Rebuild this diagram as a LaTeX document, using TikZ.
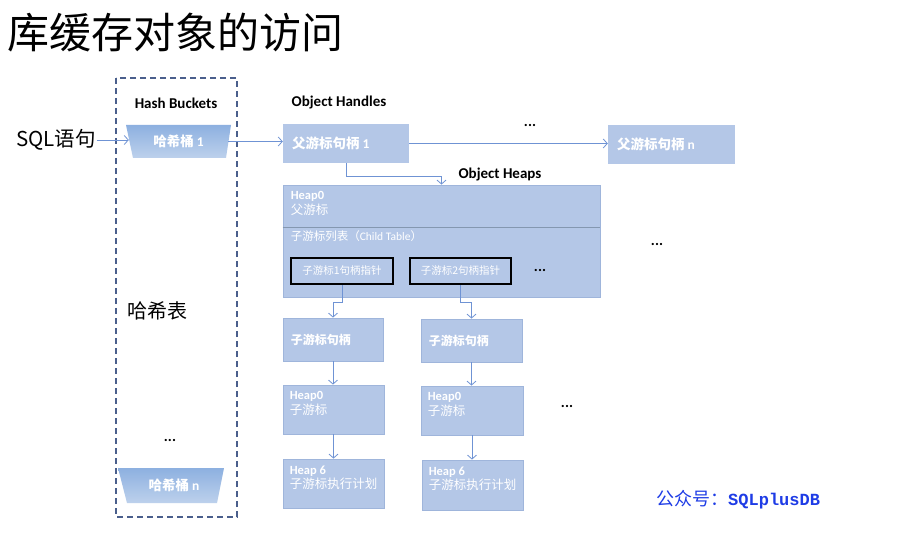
\documentclass[tikz,border=0pt]{standalone}
\usepackage{fontspec}
\setmainfont{Carlito}
\newfontfamily\cjk{Noto Sans CJK SC}
\newfontfamily\monofnt{Liberation Mono}
\usetikzlibrary{arrows.meta,shadows}
\definecolor{boxfill}{HTML}{B4C7E7}
\definecolor{boxline}{HTML}{9FB5DB}
\definecolor{sepline}{HTML}{8497B0}
\definecolor{connc}{HTML}{6F93D4}
\definecolor{dashc}{HTML}{4A5F8C}
\definecolor{wmc}{HTML}{1E3CE6}
\definecolor{bkttop}{HTML}{8DB0E0}
\definecolor{bktbot}{HTML}{BDD1EC}
\begin{document}
\begin{tikzpicture}[x=1pt,y=-1pt,
  flatbox/.style={fill=boxfill, draw=none, inner sep=0pt},
  box/.style={fill=boxfill, draw=boxline, line width=0.8pt, inner sep=0pt,
    drop shadow={shadow xshift=1pt,shadow yshift=-1.2pt,opacity=0.3,fill=black!60}},
  ptrbox/.style={draw=black, line width=2.2pt, inner sep=0pt, text=white,
    font=\fontsize{10.5}{12}\selectfont},
  btxt/.style={text=white, inner sep=0pt, anchor=west, font=\fontsize{12}{14}\selectfont\bfseries},
  mtxt/.style={text=white, inner sep=0pt, anchor=north west, align=left, font=\fontsize{12.5}{14.5}\selectfont},
  head/.style={inner sep=0pt, font=\fontsize{15}{17}\selectfont\bfseries},
  dots/.style={inner sep=0pt, font=\fontsize{15}{16}\selectfont\bfseries},
  conn/.style={draw=connc, line width=0.8pt, -{Straight Barb[length=4pt,width=9pt]}},
  bucket/.style={top color=bkttop, bottom color=bktbot, draw=none},
]
\useasboundingbox (0,0) rectangle (900,548);
\fill[white] (0,0) rectangle (900,548);

% title
\node[inner sep=0pt, anchor=west, font=\cjk\fontsize{42}{46}\selectfont] (title) at (7,33) {库缓存对象的访问};

% hash bucket area
\draw[dashc, line width=1.1pt, dash pattern=on 6pt off 4pt] (116,78) rectangle (237,517);
\node[head] (hb) at (176,103) {Hash Buckets};
\path[bucket] (126,125) -- (231,125) -- (226,158) -- (133,158) -- cycle;
\node[inner sep=0pt, minimum width=99pt, minimum height=33pt, text=white,
  font=\fontsize{13.5}{15}\selectfont\bfseries] (b1) at (178.5,141.5) {{\cjk 哈希桶} 1};
\path[bucket] (118,468) -- (224,468) -- (217,503) -- (127,503) -- cycle;
\node[inner sep=0pt, minimum width=98pt, minimum height=35pt, text=white,
  font=\fontsize{13.5}{15}\selectfont\bfseries] (bn) at (174,485.5) {{\cjk 哈希桶} n};
\node[inner sep=0pt, font=\cjk\fontsize{20}{22}\selectfont] (htab) at (157.5,311) {哈希表};
\node[dots] (d5) at (170,440) {...};

% SQL statement
\node[inner sep=1pt, font=\cjk\fontsize{20.5}{22}\selectfont] (sql) at (56,140) {SQL语句};
\draw[conn] (sql.east) -- (sql.east -| b1.west);

% object handles
\node[head] (oh) at (339,103) {Object Handles};
\node[flatbox, minimum width=126pt, minimum height=39pt] (ph1) at (346,143.5) {};
\node[btxt, font=\fontsize{13.5}{15}\selectfont\bfseries] (ph1t) at ([xshift=9pt]ph1.west) {{\cjk 父游标句柄} 1};
\node[flatbox, minimum width=127pt, minimum height=39pt] (phn) at (671.5,144.5) {};
\node[btxt, font=\fontsize{13.5}{15}\selectfont\bfseries] (phnt) at ([xshift=9pt]phn.west) {{\cjk 父游标句柄} n};
\node[dots] (d1) at (530,125) {...};
\draw[conn] (b1.east) -- (b1.east -| ph1.west);
\draw[conn] (ph1.east) -- (ph1.east -| phn.west);

% object heaps
\node[head] (ohp) at (500,175) {Object Heaps};
\node[box, minimum width=317pt, minimum height=70pt] (heapB) at (441.5,262) {};
\node[box, minimum width=317pt, minimum height=42pt] (heapA) at (441.5,206) {};
\draw[sepline, line width=1.6pt] (heapA.south west) -- (heapA.south east);
\node[mtxt] (heapAt) at ([xshift=8pt,yshift=-7pt]heapA.north west) {\textbf{Heap0}\\{\cjk 父游标}};
\node[text=white, inner sep=0pt, anchor=base west, font=\fontsize{11.5}{13}\selectfont] (ctab) at ([xshift=8pt,yshift=-14pt]heapB.north west) {{\cjk 子游标列表（}Child Table{\cjk ）}};
\node[ptrbox, minimum width=102pt, minimum height=26pt] (cp1) at (342,271) {\cjk 子游标1句柄指针};
\node[ptrbox, minimum width=101pt, minimum height=26pt] (cp2) at (460.5,271) {\cjk 子游标2句柄指针};
\node[dots] (d2) at (540,270) {...};
\node[dots] (d3) at (657,244) {...};
\draw[conn] (ph1.south) -- ++(0,13) -| (heapA.north);

% child cursor columns
\node[box, minimum width=100pt, minimum height=43pt] (ch1) at (333,339.5) {};
\node[btxt] (ch1t) at ([xshift=8pt]ch1.west) {\cjk 子游标句柄};
\node[box, minimum width=101pt, minimum height=43pt] (ch2) at (471.5,340.5) {};
\node[btxt] (ch2t) at ([xshift=8pt]ch2.west) {\cjk 子游标句柄};

\node[box, minimum width=101pt, minimum height=49pt] (h0a) at (333.5,409.5) {};
\node[mtxt] (h0at) at ([xshift=7pt,yshift=-7pt]h0a.north west) {\textbf{Heap0}\\{\cjk 子游标}};
\node[box, minimum width=102pt, minimum height=49pt] (h0b) at (472,410.5) {};
\node[mtxt] (h0bt) at ([xshift=7pt,yshift=-7pt]h0b.north west) {\textbf{Heap0}\\{\cjk 子游标}};

\node[box, minimum width=101pt, minimum height=49pt] (h6a) at (333.5,483.5) {};
\node[mtxt] (h6at) at ([xshift=7pt,yshift=-7pt]h6a.north west) {\textbf{Heap 6}\\{\cjk 子游标执行计划}};
\node[box, minimum width=101pt, minimum height=50pt] (h6b) at (472.5,485) {};
\node[mtxt] (h6bt) at ([xshift=7pt,yshift=-7pt]h6b.north west) {\textbf{Heap 6}\\{\cjk 子游标执行计划}};
\node[dots] (d4) at (567,406) {...};

\draw[conn] (cp1.south) -- ++(0,17) -| (ch1.north);
\draw[conn] (cp2.south) -- ++(0,17) -| (ch2.north);
\draw[conn] (ch1.south) -- (ch1.south |- h0a.north);
\draw[conn] (ch2.south) -- (ch2.south |- h0b.north);
\draw[conn] (h0a.south) -- (h0a.south |- h6a.north);
\draw[conn] (h0b.south) -- (h0b.south |- h6b.north);

% watermark
\node[inner sep=0pt, anchor=west, text=wmc] (wm) at (656,500) {{\cjk\fontsize{18}{20}\selectfont 公众号：}{\monofnt\bfseries\fontsize{17}{20}\selectfont SQLplusDB}};
\end{tikzpicture}
\end{document}
